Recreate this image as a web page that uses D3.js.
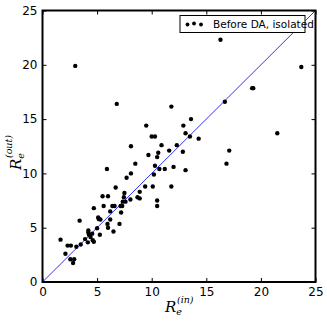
<!DOCTYPE html>
<html>
<head>
<meta charset="utf-8">
<script src="https://cdn.jsdelivr.net/npm/d3@7"></script>
<style>
body { margin: 0; background: #fff; }
svg { display: block; }
.tick text { font-family: "DejaVu Sans", sans-serif; font-size: 12px; fill: #000; }
</style>
</head>
<body>
<svg width="327" height="322"></svg>
<script>
// R_e(in) vs R_e(out), before DA, isolated
var rIn = [3.0, 16.3, 23.7, 19.2, 19.3, 16.7, 6.8, 11.8, 13.6, 9.5, 12.9, 13.1, 10.0, 10.3, 13.5, 14.3,
    21.5, 10.9, 12.3, 8.1, 11.6, 12.85, 10.6, 9.7, 10.5, 17.1, 16.85, 8.5, 5.9, 10.3, 10.7, 11.2,
    12.0, 13.1, 8.1, 7.7, 10.2, 6.7, 9.4, 10.1, 11.8, 8.9, 7.5, 5.5, 6.0, 7.45, 8.05, 7.35, 7.6,
    8.7, 8.9, 10.5, 10.5, 4.7, 5.6, 7.15, 7.3, 6.4, 6.6, 6.2, 7.2, 3.4, 5.1, 5.15, 5.3, 6.2, 5.95,
    7.05, 5.0, 6.0, 6.5, 4.2, 4.2, 4.25, 4.4, 4.55, 5.25, 3.9, 4.6, 4.7, 4.15, 3.5, 3.1, 2.3, 2.6,
    1.65, 2.1, 2.55, 2.9, 2.8];
var rOut = [19.9, 22.3, 19.8, 17.85, 17.85, 16.6, 16.4, 16.15, 15.0, 14.4, 14.4, 13.7, 13.4, 13.4, 13.4, 13.2,
    13.7, 12.6, 12.6, 12.5, 12.1, 12.0, 11.9, 11.7, 11.5, 12.1, 10.9, 10.9, 10.4, 10.7, 10.4, 10.4,
    10.6, 10.3, 10.0, 9.6, 9.9, 8.7, 8.8, 8.8, 8.8, 8.3, 8.2, 7.9, 7.9, 7.8, 7.6, 7.4, 7.4,
    7.8, 7.7, 7.5, 7.0, 6.8, 7.0, 7.0, 7.0, 7.0, 7.0, 6.5, 6.4, 5.65, 5.95, 5.8, 5.75, 5.75, 5.35,
    5.35, 4.95, 5.0, 4.65, 4.75, 4.55, 4.35, 4.15, 4.45, 4.35, 3.95, 3.85, 3.7, 3.65, 3.45, 3.25, 3.35, 3.35,
    3.9, 2.6, 2.1, 2.1, 1.75];
var ticks = [0, 5, 10, 15, 20, 25];
var legendLabel = "Before DA, isolated";

var svg = d3.select('svg');

var x = d3.scaleLinear().domain([0, 25]).range([42.5, 315.5]);
var y = d3.scaleLinear().domain([0, 25]).range([282, 10.5]);

// ticks inside on all four sides
svg.append('g')
    .attr('transform', 'translate(0,282)')
    .call(d3.axisBottom(x).tickValues(ticks).tickSizeInner(-4).tickSizeOuter(0).tickPadding(5))
    .call(function(g){ g.select('.domain').remove(); });
svg.append('g')
    .attr('transform', 'translate(42.5,0)')
    .call(d3.axisLeft(y).tickValues(ticks).tickSizeInner(-4).tickSizeOuter(0).tickPadding(5))
    .call(function(g){ g.select('.domain').remove(); });
svg.append('g')
    .attr('transform', 'translate(0,10.5)')
    .call(d3.axisTop(x).tickValues(ticks).tickSizeInner(-4).tickSizeOuter(0).tickFormat(''))
    .call(function(g){ g.select('.domain').remove(); });
svg.append('g')
    .attr('transform', 'translate(315.5,0)')
    .call(d3.axisRight(y).tickValues(ticks).tickSizeInner(-4).tickSizeOuter(0).tickFormat(''))
    .call(function(g){ g.select('.domain').remove(); });

svg.append('line')
    .attr('x1', x(0)).attr('y1', y(0))
    .attr('x2', x(25)).attr('y2', y(25))
    .style('stroke', '#3333ff')
    .style('stroke-width', 1);

var pts = rIn.map(function(d, i){ return [d, rOut[i]]; });
svg.selectAll('circle.pt')
    .data(pts)
    .enter()
    .append('circle')
    .attr('class', 'pt')
    .attr('cx', function(d){ return x(d[0]); })
    .attr('cy', function(d){ return y(d[1]); })
    .attr('r', 2.2)
    .style('fill', '#000');

svg.append('rect')
    .attr('x', x(0)).attr('y', y(25))
    .attr('width', x(25) - x(0)).attr('height', y(0) - y(25))
    .style('fill', 'none')
    .style('stroke', '#000')
    .style('stroke-width', 2);

// legend
var lg = svg.append('g').attr('transform', 'translate(180,15.5)');
lg.append('rect')
    .attr('width', 125).attr('height', 17)
    .style('fill', '#fff').style('stroke', '#000').style('stroke-width', 1);
lg.selectAll('circle')
    .data([[7.5, 9], [14, 8], [21, 9]])
    .enter()
    .append('circle')
    .attr('cx', function(d){ return d[0]; })
    .attr('cy', function(d){ return d[1]; })
    .attr('r', 1.9)
    .style('fill', '#000');
lg.append('text')
    .attr('x', 33).attr('y', 12.5)
    .style('font-family', 'DejaVu Sans, sans-serif')
    .style('font-size', '10.5px')
    .text(legendLabel);

// axis labels
function mathLabel(g, sup) {
    var t = g.append('text')
        .style('font-family', 'DejaVu Serif, serif')
        .style('font-size', '15px')
        .style('font-style', 'italic');
    t.append('tspan').text('R');
    t.append('tspan').attr('dy', 3).style('font-size', '9.5px').text('e');
    t.append('tspan').attr('dx', -5).attr('dy', -12).style('font-size', '9.5px').text('(' + sup + ')');
    return t;
}
mathLabel(svg.append('g').attr('transform', 'translate(165,312)'), 'in');
mathLabel(svg.append('g').attr('transform', 'translate(21,170)rotate(-90)'), 'out');
</script>
</body>
</html>
